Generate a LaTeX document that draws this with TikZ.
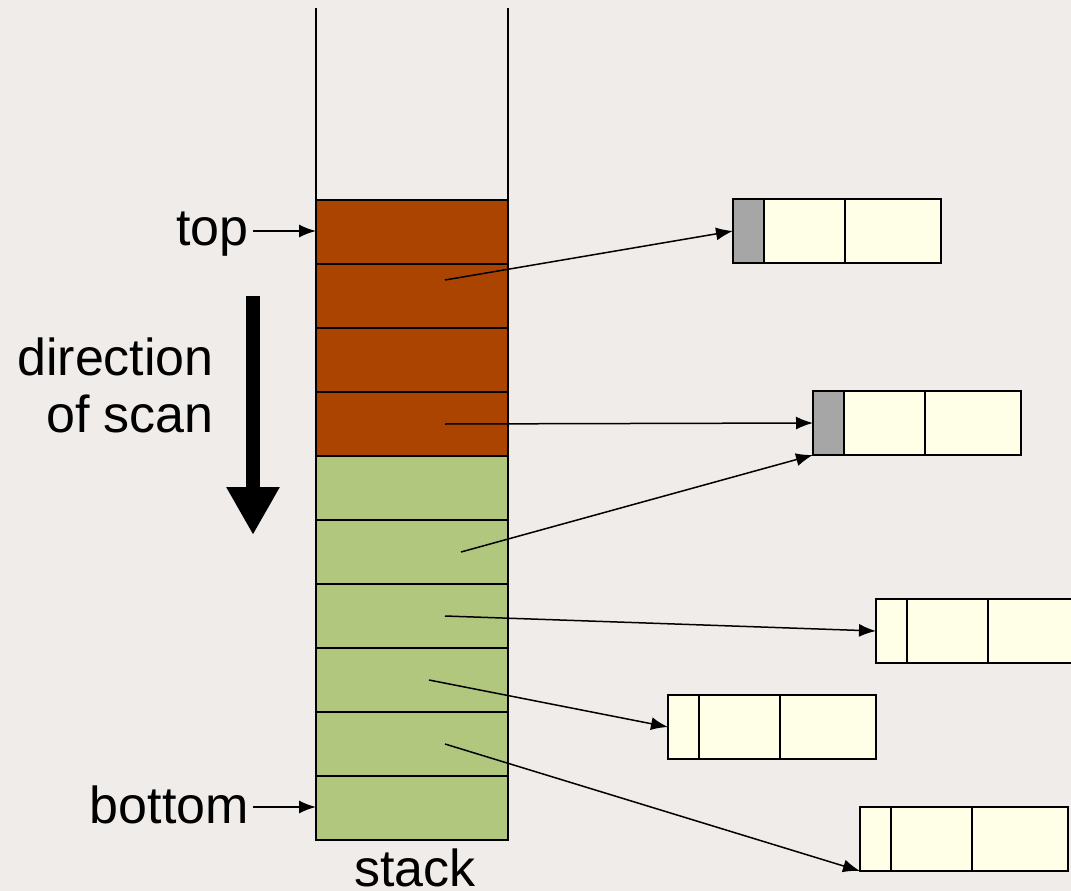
\documentclass[tikz,border=0pt]{standalone}
\usepackage{fontspec}
\setmainfont{Liberation Sans}
\usetikzlibrary{arrows.meta,calc}
\definecolor{bg}{RGB}{240,236,234}
\definecolor{frameA}{RGB}{170,68,0}
\definecolor{frameB}{RGB}{178,199,126}
\definecolor{objfill}{RGB}{255,255,232}
\definecolor{hdrfill}{RGB}{166,166,166}
\tikzset{
  cell/.style={draw=black, line width=2pt, minimum width=192pt, minimum height=64pt, inner sep=0pt, outer sep=0pt},
  brown/.style={cell, fill=frameA},
  green/.style={cell, fill=frameB},
  objcell/.style={draw=black, line width=2pt, fill=objfill, minimum height=64pt, inner sep=0pt, outer sep=0pt},
  hdr/.style={objcell, minimum width=31pt},
  fld/.style={objcell, minimum width=81pt},
  fldw/.style={objcell, minimum width=96pt},
  ptr/.style={line width=1.5pt, -{Latex[length=17pt,width=13pt]}},
  lbl/.style={font=\fontsize{52}{58}\selectfont, inner sep=0pt},
}
\begin{document}
\begin{tikzpicture}[x=1pt,y=-1pt]
\fill[bg] (0,0) rectangle (1071,891);
\useasboundingbox (0,0) rectangle (1071,891);
\clip (0,0) rectangle (1071,891);

% empty part of the stack above the top frame
\draw[line width=2pt] (316,8) -- (316,200);
\draw[line width=2pt] (508,8) -- (508,200);

% stack frames, top to bottom
\foreach \i in {0,...,3} {
  \node[brown, anchor=north west] (s\i) at (316,{200+64*\i}) {};
}
\foreach \i in {4,...,9} {
  \node[green, anchor=north west] (s\i) at (316,{200+64*\i}) {};
}

% heap objects: header + two fields
\newcommand{\heapobj}[4]{%
  \node[#4, anchor=north west] (#1h) at (#2,#3) {};
  \node[fld, anchor=north west] (#1a) at (#1h.north east) {};
  \node[fldw, anchor=north west] (#1b) at (#1a.north east) {};
}
\heapobj{o1}{733}{199}{hdr,fill=hdrfill}
\heapobj{o2}{813}{391}{hdr,fill=hdrfill}
\heapobj{o3}{876}{599}{hdr}
\heapobj{o4}{668}{695}{hdr}
\heapobj{o5}{860}{807}{hdr}

% pointers from stack slots into the heap
\coordinate (p1) at ($(s1.center)+(33,-16)$);
\coordinate (p3) at ($(s3.center)+(33,0)$);
\coordinate (p5) at ($(s5.center)+(49,0)$);
\coordinate (p6) at ($(s6.center)+(33,0)$);
\coordinate (p7) at ($(s7.center)+(17,0)$);
\coordinate (p8) at ($(s8.center)+(33,0)$);
\draw[ptr] (p1) -- (o1h.west);
\draw[ptr] (p3) -- (o2h.west);
\draw[ptr] (p5) -- (o2h.south west);
\draw[ptr] (p6) -- (o3h.west);
\draw[ptr] (p7) -- (o4h.west);
\draw[ptr] (p8) -- (o5h.south west);

% labels
\node[lbl, anchor=base east] (top) at (249,245) {top};
\node[lbl, anchor=base east] (bottom) at (249,823) {bottom};
\coordinate (topend) at (253,231);
\coordinate (botend) at (253,807);
\draw[ptr] (topend) -- (s0.west |- topend);
\draw[ptr] (botend) -- (s9.west |- botend);
\node[lbl, anchor=base east] (dir1) at (214,375) {direction};
\node[lbl, anchor=base east] (dir2) at (214,432) {of scan};
\node[lbl, anchor=base] (stk) at (415,886) {stack};

% direction of scan arrow
\coordinate (d0) at (253,296);
\coordinate (d1) at (253,535);
\draw[line width=14pt, -{Triangle[length=48pt,width=50pt]}] (d0) -- (d1);
\end{tikzpicture}
\end{document}
